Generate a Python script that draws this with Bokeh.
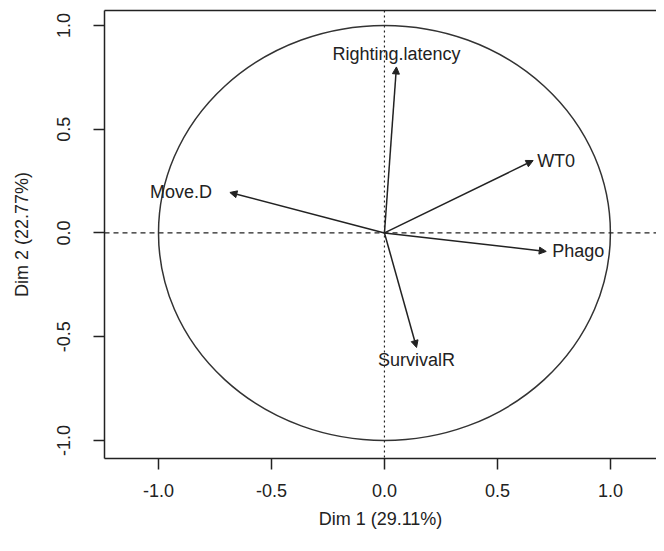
import numpy as np
from bokeh.plotting import figure
from bokeh.models import (Arrow, NormalHead, Span, LinearAxis, FixedTicker, Range1d,
                          ColumnDataSource, PrintfTickFormatter)
from bokeh.embed import file_html
from bokeh.resources import INLINE
from bokeh.core.properties import value

# ---- data ----
variables = ["WT0", "Phago", "Move.D", "Righting.latency", "SurvivalR"]
dim1 = [0.658, 0.716, -0.684, 0.053, 0.142]
dim2 = [0.349, -0.089, 0.195, 0.800, -0.552]
x_ticks = [-1.0, -0.5, 0.0, 0.5, 1.0]
y_ticks = [-1.0, -0.5, 0.0, 0.5, 1.0]
x_title = "Dim 1 (29.11%)"
y_title = "Dim 2 (22.77%)"

# ---- styles ----
FONT = "Liberation Sans"
FS = "18px"
INK = "#222222"
label_gap = [4, 6, 18, 3, 3]

# label placement derived from arrow direction
aligns, baselines, xo, yo = [], [], [], []
for x, y, g in zip(dim1, dim2, label_gap):
    if abs(x) > abs(y):
        aligns.append("left" if x > 0 else "right")
        baselines.append("middle")
        xo.append(g if x > 0 else -g)
        yo.append(0)
    else:
        aligns.append("center")
        baselines.append("bottom" if y > 0 else "top")
        xo.append(0)
        yo.append(-g if y > 0 else g)

src = ColumnDataSource(dict(x=dim1, y=dim2, name=variables, align=aligns,
                            baseline=baselines, xo=xo, yo=yo))

p = figure(width=656, height=543,
           x_range=Range1d(-1.239, 1.204), y_range=Range1d(-1.087, 1.072),
           output_backend="svg", toolbar_location=None,
           min_border_left=104, min_border_right=0, min_border_top=10, min_border_bottom=85)
p.grid.visible = False
p.outline_line_color = None
p.background_fill_color = "white"
p.border_fill_color = "white"

for ax, ticks in ((p.xaxis[0], x_ticks), (p.yaxis[0], y_ticks)):
    ax.ticker = FixedTicker(ticks=ticks)
    ax.formatter = PrintfTickFormatter(format="%.1f")
    ax.major_tick_out = 11
    ax.major_tick_in = 0
    ax.minor_tick_line_color = None
    ax.axis_line_color = INK
    ax.axis_line_width = 1.5
    ax.major_tick_line_color = INK
    ax.major_tick_line_width = 1.5
    ax.major_label_text_font = FONT
    ax.major_label_text_font_size = FS
    ax.major_label_text_color = INK
    ax.axis_label_text_font = FONT
    ax.axis_label_text_font_size = FS
    ax.axis_label_text_font_style = "normal"
    ax.axis_label_text_color = INK

p.xaxis.axis_label = x_title
p.yaxis.axis_label = y_title
p.xaxis.major_label_standoff = 14
p.xaxis.axis_label_standoff = 9
p.yaxis.major_label_orientation = "vertical"
p.yaxis.major_label_standoff = 23
p.yaxis.axis_label_standoff = 23

top = LinearAxis(ticker=FixedTicker(ticks=[]), major_tick_out=0, major_tick_in=0,
                 minor_tick_line_color=None, major_label_standoff=0,
                 axis_line_color=INK, axis_line_width=1.5)
p.add_layout(top, "above")

# reference lines
p.add_layout(Span(location=0, dimension="width", line_color=INK, line_width=1.2,
                  line_dash="5 4"))
p.add_layout(Span(location=0, dimension="height", line_color=INK, line_width=1.2,
                  line_dash="2 3"))

# correlation circle (unit circle in data space)
p.ellipse(x=[0], y=[0], width=[2], height=[2], fill_color=None,
          line_color="#333333", line_width=1.5)

# arrows
p.add_layout(Arrow(end=NormalHead(size=7, fill_color=INK, line_color=INK, line_width=1),
                   x_start=0, y_start=0, x_end="x", y_end="y", source=src,
                   line_color=INK, line_width=1.5))

p.text(x="x", y="y", text="name", source=src, text_align="align",
       text_baseline="baseline", x_offset="xo", y_offset="yo",
       text_font=value(FONT), text_font_size=FS, text_color=INK)

open("out.html", "w").write(file_html(p, INLINE))
